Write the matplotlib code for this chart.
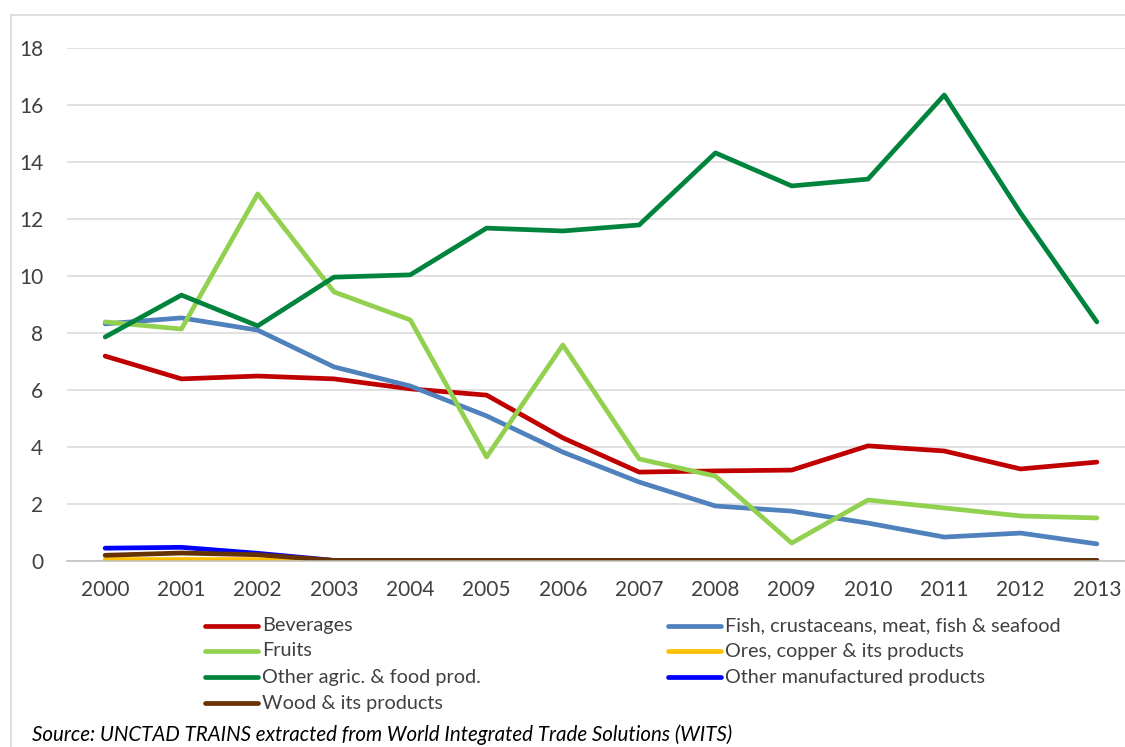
import matplotlib
matplotlib.use("Agg")
import matplotlib.pyplot as plt
from matplotlib.lines import Line2D
from matplotlib.patches import Rectangle

years = ["2000", "2001", "2002", "2003", "2004", "2005", "2006",
         "2007", "2008", "2009", "2010", "2011", "2012", "2013"]

beverages = [7.19, 6.39, 6.49, 6.39, 6.04, 5.82, 4.32, 3.12, 3.16, 3.19, 4.04, 3.86, 3.23, 3.47]
fish = [8.32, 8.53, 8.10, 6.81, 6.14, 5.09, 3.82, 2.77, 1.93, 1.75, 1.33, 0.84, 0.98, 0.60]
fruits = [8.39, 8.14, 12.88, 9.44, 8.46, 3.65, 7.58, 3.58, 2.98, 0.63, 2.14, 1.86, 1.58, 1.51]
ores = [0.05, 0.05, 0.05, 0.0, 0.0, 0.0, 0.0, 0.0, 0.0, 0.0, 0.0, 0.0, 0.0, 0.0]
other_agric = [7.86, 9.33, 8.25, 9.96, 10.04, 11.68, 11.58, 11.79, 14.32, 13.16, 13.40, 16.35, 12.21, 8.39]
other_manuf = [0.45, 0.48, 0.27, 0.02, 0.02, 0.02, 0.02, 0.02, 0.02, 0.02, 0.02, 0.02, 0.02, 0.02]
wood = [0.20, 0.28, 0.22, 0.02, 0.02, 0.02, 0.02, 0.02, 0.02, 0.02, 0.02, 0.02, 0.02, 0.02]

series_names = ["Beverages", "Fish, crustaceans, meat, fish & seafood", "Fruits",
                "Ores, copper & its products", "Other agric. & food prod.",
                "Other manufactured products", "Wood & its products"]
series_values = [beverages, fish, fruits, ores, other_agric, other_manuf, wood]
series_colors = ["#C00000", "#4F81BD", "#92D050", "#FFC000", "#00843D", "#0000FF", "#663300"]

y_ticks = [0, 2, 4, 6, 8, 10, 12, 14, 16, 18]
source_text = "Source: UNCTAD TRAINS extracted from World Integrated Trade Solutions (WITS)"

plt.rcParams["font.family"] = ["Lato", "DejaVu Sans"]

W, H = 1125, 747
fig = plt.figure(figsize=(W / 100, H / 100), dpi=100)

# light chart border
fig.add_artist(Rectangle((11 / W, -0.1), 1.2, (H - 15) / H + 0.1, transform=fig.transFigure,
                         fill=False, edgecolor="#D9D9D9", linewidth=1.2))

ax_left, ax_right, ax_top, ax_bottom = 67, 1135, 48, 561
ax = fig.add_axes([ax_left / W, (H - ax_bottom) / H,
                   (ax_right - ax_left) / W, (ax_bottom - ax_top) / H])

x = list(range(len(years)))
for vals, col in zip(series_values, series_colors):
    ax.plot(x, vals, color=col, linewidth=3.4, solid_capstyle="round", solid_joinstyle="round")

ax.set_xlim(-0.5, len(years) - 0.5)
ax.set_ylim(0, 18)
ax.set_yticks(y_ticks)
ax.set_xticks(x)
ax.set_xticklabels(years)
ax.grid(axis="y", color="#D9D9D9", linewidth=1.1)
ax.set_axisbelow(True)
for s in ["top", "right", "left"]:
    ax.spines[s].set_visible(False)
ax.spines["bottom"].set_color("#BFBFBF")
ax.spines["bottom"].set_linewidth(1.1)
ax.tick_params(axis="both", length=0, labelsize=15, colors="#404040")
ax.tick_params(axis="y", pad=17)
ax.tick_params(axis="x", pad=14)

# legend, two columns in row-major order
col_x = [205, 668]
row_y = [626, 651, 677, 703]
for i, (name, col) in enumerate(zip(series_names, series_colors)):
    r, c = divmod(i, 2)
    x0 = col_x[c]
    yy = (H - row_y[r]) / H
    fig.add_artist(Line2D([x0 / W, (x0 + 53) / W], [yy, yy], transform=fig.transFigure,
                          color=col, linewidth=3.4, solid_capstyle="round"))
    fig.text((x0 + 57) / W, yy, name, ha="left", va="center", fontsize=14.3, color="#404040")

fig.text(32 / W, (H - 735) / H, source_text, ha="left", va="center",
         fontsize=14.8, style="italic", color="#000000")

fig.savefig("out.png", dpi=100)
